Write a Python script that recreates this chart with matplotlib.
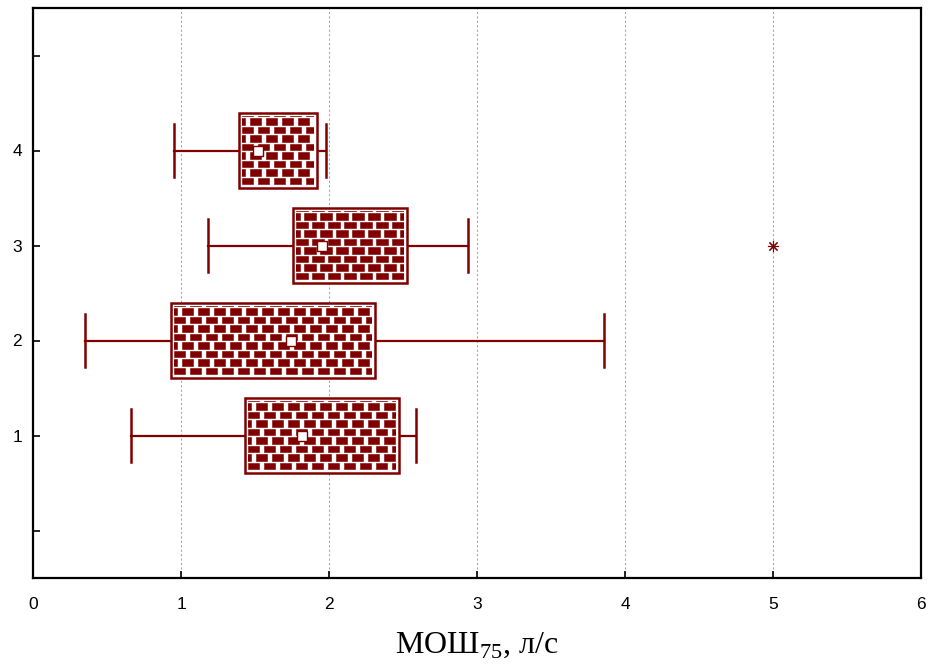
import numpy as np
import matplotlib
matplotlib.use("Agg")
import matplotlib.pyplot as plt
from matplotlib.patches import Rectangle
from matplotlib.collections import PatchCollection

# data (x in l/s)
groups = [1, 2, 3, 4]
whisker_lo = [0.66, 0.35, 1.18, 0.95]
box_lo = [1.43, 0.93, 1.76, 1.39]
means = [1.82, 1.74, 1.95, 1.52]
box_hi = [2.47, 2.31, 2.53, 1.92]
whisker_hi = [2.59, 3.86, 2.94, 1.98]
outlier_x = [5.0]
outlier_y = [3]

col = "#800000"
plt.rcParams['font.family'] = ['Liberation Sans', 'DejaVu Sans']
plt.rcParams['mathtext.fontset'] = 'custom'
plt.rcParams['mathtext.rm'] = 'Liberation Serif'

fig = plt.figure(figsize=(9.3, 6.71), dpi=100)
ax = fig.add_axes([33 / 930, 1 - 578 / 671, (921 - 33) / 930, (578 - 8) / 671])

ax.set_xlim(0, 6)
ax.set_ylim(-0.5, 5.5)

box_h = 0.78
cap_h = 0.55

# pixel scale for the brick texture
px_x = 6 / 888.0
px_y = 6 / 570.0

for g, wl, bl, m, bh, wh in zip(groups, whisker_lo, box_lo, means, box_hi, whisker_hi):
    ax.plot([wl, bl], [g, g], color=col, lw=1.6, zorder=2)
    ax.plot([bh, wh], [g, g], color=col, lw=1.6, zorder=2)
    ax.plot([wl, wl], [g - cap_h / 2, g + cap_h / 2], color=col, lw=1.8, zorder=2)
    ax.plot([wh, wh], [g - cap_h / 2, g + cap_h / 2], color=col, lw=1.8, zorder=2)

    box = Rectangle((bl, g - box_h / 2), bh - bl, box_h, facecolor="white",
                    edgecolor=col, lw=1.8, zorder=3)
    ax.add_patch(box)

    # brick texture clipped to the inside of the box
    inner = Rectangle((bl + 3 * px_x, g - box_h / 2 + 3 * px_y),
                      bh - bl - 6 * px_x, box_h - 6 * px_y,
                      transform=ax.transData, facecolor="none", edgecolor="none")
    ax.add_patch(inner)
    bw, bgap = 11.5 * px_x, 4.5 * px_x
    rh, rgap = 8.5 * px_y, 2.2 * px_y
    bricks = []
    y0 = g - box_h / 2 + 3.5 * px_y
    row = 0
    while y0 < g + box_h / 2:
        x0 = bl + 3 * px_x - (0 if row % 2 == 0 else (bw + bgap) / 2)
        while x0 < bh:
            bricks.append(Rectangle((x0, y0), bw, rh - rgap))
            x0 += bw + bgap
        y0 += rh
        row += 1
    pc = PatchCollection(bricks, facecolor=col, edgecolor=col, lw=0.4, zorder=4)
    ax.add_collection(pc)
    pc.set_clip_path(inner)

    ax.plot([m], [g], marker="s", ms=7, mfc="white", mec=col, mew=1, zorder=5)

ax.plot(outlier_x, outlier_y, linestyle="none", marker=(8, 2, 0), ms=8,
        color=col, mew=0.8, zorder=5)

ax.set_xticks(range(0, 7))
ax.set_yticks(range(0, 6))
ax.set_yticklabels(["", "1", "2", "3", "4", ""])
ax.tick_params(direction="in", length=5, width=1.2, labelsize=12.5, pad=14)
ax.tick_params(axis="y", pad=8)
ax.xaxis.grid(True, linestyle=(0, (2, 2)), color="#aaaaaa", lw=0.8)
ax.set_axisbelow(True)
for s in ax.spines.values():
    s.set_linewidth(1.6)

ax.set_xlabel("МОШ$_{75}$, л/с", fontsize=23, family="Liberation Serif", labelpad=13)

fig.savefig("out.png", dpi=100)
